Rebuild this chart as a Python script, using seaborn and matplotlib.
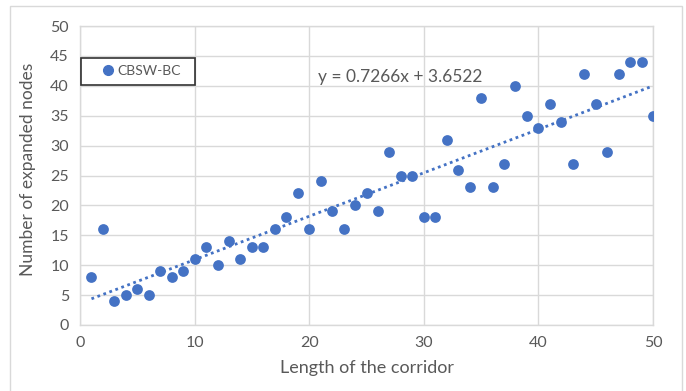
import numpy as np
import pandas as pd
import matplotlib
matplotlib.use('Agg')
import matplotlib.pyplot as plt
import matplotlib.patches as mpatches
from matplotlib.lines import Line2D
import seaborn as sns

# data
corridor_length = list(range(1, 51))
expanded_nodes = [8, 16, 4, 5, 6, 5, 9, 8, 9, 11,
                  13, 10, 14, 11, 13, 13, 16, 18, 22, 16,
                  24, 19, 16, 20, 22, 19, 29, 25, 25, 18,
                  18, 31, 26, 23, 38, 23, 27, 40, 35, 33,
                  37, 34, 27, 42, 37, 29, 42, 44, 44, 35]
series_name = 'CBSW-BC'
equation_text = 'y = 0.7266x + 3.6522'

df = pd.DataFrame({'length': corridor_length, 'nodes': expanded_nodes})

BLUE = '#4472C4'
GRID = '#d9d9d9'
TEXT = '#595959'

sns.set_style('white')
plt.rcParams['font.family'] = ['Lato', 'DejaVu Sans']

fig = plt.figure(figsize=(6.86, 3.91), dpi=100)
ax = fig.add_axes([80 / 686, 1 - 325 / 391, 573 / 686, 299 / 391])

# outer chart border
fig.patches.append(mpatches.Rectangle((10 / 686, -0.05), 672 / 686, 1 - 6 / 391 + 0.05,
                                      transform=fig.transFigure, fill=False,
                                      edgecolor=GRID, linewidth=1))

sns.scatterplot(data=df, x='length', y='nodes', ax=ax, color=BLUE, s=60,
                edgecolor=BLUE, linewidth=0, zorder=3)
sns.regplot(data=df, x='length', y='nodes', ax=ax, scatter=False, ci=None,
            truncate=True, color=BLUE,
            line_kws={'linestyle': (0, (1, 1.3)), 'linewidth': 2, 'zorder': 2})

ax.set_xlim(0, 50)
ax.set_ylim(0, 50)
ax.set_xticks(range(0, 51, 10))
ax.set_yticks(range(0, 51, 5))
ax.grid(True, color=GRID, linewidth=1)
ax.set_axisbelow(True)
for sp in ax.spines.values():
    sp.set_color(GRID)
    sp.set_linewidth(1)
ax.tick_params(axis='both', length=0, labelsize=11.5, labelcolor=TEXT, pad=8)
ax.set_xlabel('Length of the corridor', fontsize=13, color=TEXT, labelpad=7)
ax.set_ylabel('Number of expanded nodes', fontsize=12.5, color=TEXT)
ax.yaxis.set_label_coords(-0.077, 0.52)

ax.text(0.415, 0.83, equation_text, transform=ax.transAxes, fontsize=12.5,
        color=TEXT, ha='left', va='center')

handle = Line2D([], [], marker='o', linestyle='', color=BLUE, markersize=7)
leg = ax.legend([handle], [series_name], loc='lower left', mode='expand',
                bbox_to_anchor=(1 / 573, 0.803, 0.199, 0.097),
                frameon=True, fancybox=False, fontsize=10,
                borderpad=0.55, handlelength=2.8, handletextpad=-0.75,
                borderaxespad=0)
leg.get_frame().set_edgecolor('black')
leg.get_frame().set_linewidth(1.2)
for t in leg.get_texts():
    t.set_color(TEXT)

fig.savefig('out.png', dpi=100)
